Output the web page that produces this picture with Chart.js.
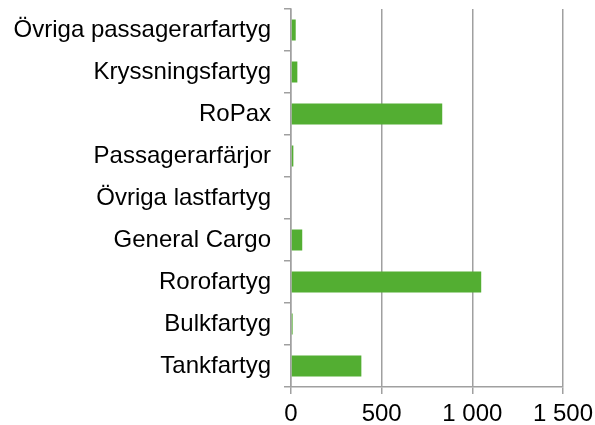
<!DOCTYPE html>
<html lang="sv">
<head>
<meta charset="UTF-8">
<title>Fartyg</title>
<script src="https://cdn.jsdelivr.net/npm/chart.js"></script>
<style>
  body { margin: 0; background: #fff; }
</style>
</head>
<body>
<canvas id="myChart" width="595" height="425"></canvas>
<script>
// data
const categories = ['Övriga passagerarfartyg', 'Kryssningsfartyg', 'RoPax', 'Passagerarfärjor',
  'Övriga lastfartyg', 'General Cargo', 'Rorofartyg', 'Bulkfartyg', 'Tankfartyg'];
const values = [26, 35, 834, 13, 0, 62, 1049, 9, 388];
const xTicks = [0, 500, 1000, 1500];

function fmt(v) {
  return String(v).replace(/\B(?=(\d{3})+(?!\d))/g, ' ');
}

const gray = '#a0a0a0';
const ctx = document.getElementById('myChart');
new Chart(ctx, {
  type: 'bar',
  data: {
    labels: categories,
    datasets: [{
      data: values,
      backgroundColor: '#53ae32',
      categoryPercentage: 0.5,
      barPercentage: 1
    }]
  },
  options: {
    indexAxis: 'y',
    responsive: false,
    animation: false,
    layout: { padding: { top: 9, right: 32, left: 0, bottom: 0 } },
    plugins: { legend: { display: false }, tooltip: { enabled: false } },
    scales: {
      x: {
        min: 0,
        max: 1500,
        afterBuildTicks: function (scale) {
          scale.ticks = xTicks.map(v => ({ value: v }));
        },
        afterFit: function (scale) {
          scale.height = 38;
          scale.paddingLeft = 0;
          scale.paddingRight = 0;
        },
        grid: { color: gray, lineWidth: 1.5, tickLength: 7 },
        border: { color: gray, width: 1.5 },
        ticks: {
          color: '#000',
          padding: 6,
          maxRotation: 0,
          font: { family: 'Liberation Sans', size: 24 },
          callback: function (v) { return fmt(v); }
        }
      },
      y: {
        afterFit: function (scale) {
          scale.width = 291;
          scale.paddingTop = 0;
          scale.paddingBottom = 0;
        },
        grid: { drawOnChartArea: false, color: gray, lineWidth: 1.5, tickLength: 7 },
        border: { color: gray, width: 1.5 },
        ticks: {
          color: '#000',
          padding: 13,
          font: { family: 'Liberation Sans', size: 24 }
        }
      }
    }
  }
});
</script>
</body>
</html>
